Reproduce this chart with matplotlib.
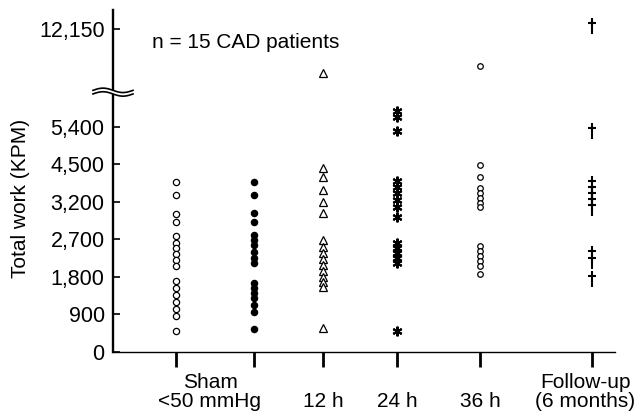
import numpy as np
import matplotlib
matplotlib.use('Agg')
import matplotlib.pyplot as plt
from matplotlib.path import Path
from matplotlib.patches import Polygon
from matplotlib.lines import Line2D
from matplotlib.transforms import ScaledTranslation

plt.rcParams['font.family'] = ['Liberation Sans', 'DejaVu Sans']

# datos (KPM)
sham = [3900, 3450, 3040, 2930, 2750, 2620, 2500, 2350, 2210, 2060, 1700, 1540, 1370, 1200, 1030, 860, 500]
low_map = [3900, 3450, 3050, 2930, 2760, 2690, 2570, 2400, 2260, 2140, 1660, 1540, 1420, 1300, 1130, 960, 550]
h12 = [9100, 4380, 4070, 3620, 3200, 3050, 2690, 2520, 2380, 2230, 2090, 1940, 1800, 1680, 1560, 580]
h24 = [6500, 6090, 5300, 3930, 3720, 3510, 3270, 3130, 3000, 2620, 2500, 2380, 2260, 2140, 500]
h36 = [9600, 4480, 4070, 3690, 3510, 3340, 3190, 3130, 2540, 2420, 2300, 2180, 2060, 1870]
followup = [12360, 5300, 3820, 3620, 3410, 3200, 3120, 2350, 2180, 1750]

series = [sham, low_map, h12, h24, h36, followup]
xlabels = ['', '', '\n12 h', '\n24 h', '\n36 h', 'Follow-up\n(6 months)']
ytick_vals = [0, 900, 1800, 2700, 3200, 4500, 5400, 12150]
ytick_labels = ['0', '900', '1,800', '2,700', '3,200', '4,500', '5,400', '12,150']

# posiciones de las columnas (layout)
xpos = [0, 0.78, 1.47, 2.21, 3.04, 4.16]

# escala con corte: ticks equiespaciados hasta 5400, luego comprimido
scale_vals = np.array(ytick_vals + [15000], dtype=float)
scale_pos = np.array([0, 1, 2, 3, 4, 5, 6, 8.613, 8.613 + 2850 / 2586])


def fwd(v):
    return np.interp(v, scale_vals, scale_pos)


def inv(p):
    return np.interp(p, scale_pos, scale_vals)


dagger = Path([(0, -1), (0, 1), (-0.5, 0.45), (0.5, 0.45)],
              [Path.MOVETO, Path.LINETO, Path.MOVETO, Path.LINETO])

styles = [
    dict(marker='o', ms=4.5, mfc='white', mec='black', mew=0.9),
    dict(marker='o', ms=4.5, mfc='black', mec='black', mew=0.9),
    dict(marker='^', ms=6, mfc='white', mec='black', mew=0.9),
    dict(marker=(6, 2, 0), ms=7, mec='black', mew=1.5),
    dict(marker='o', ms=4, mfc='white', mec='black', mew=0.9),
    dict(marker=dagger, ms=11, mec='black', mew=1.5, mfc='none'),
]

fig = plt.figure(figsize=(6.34, 4.17), dpi=100)
ax = fig.add_axes([113 / 634, 65 / 417, 502 / 634, 342 / 417])
ax.set_yscale('function', functions=(fwd, inv))

for x, vals, st in zip(xpos, series, styles):
    ax.plot(np.full(len(vals), x), vals, linestyle='none', clip_on=False, **st)

ax.set_xlim(-0.63, 4.39)
ax.set_ylim(0, 13460)

ax.spines['top'].set_visible(False)
ax.spines['right'].set_visible(False)
ax.spines['left'].set_linewidth(1.7)
ax.spines['bottom'].set_linewidth(1.0)

ax.set_yticks(ytick_vals, ytick_labels)
ax.yaxis.set_minor_locator(plt.NullLocator())
ax.tick_params(axis='y', direction='in', length=5, width=1.2, pad=6, labelsize=15.5)

ax.set_xticks(xpos, xlabels)
ax.set_xticks([0.34], ['Sham\n<50 mmHg'], minor=True)
ax.tick_params(axis='x', which='major', direction='out', length=11, width=2.0, pad=4, labelsize=15)
ax.tick_params(axis='x', which='minor', length=0, pad=15, labelsize=15)
for lab in ax.get_xticklabels() + ax.get_xticklabels(minor=True):
    lab.set_linespacing(1.0)
last = ax.get_xticklabels()[-1]
last.set_transform(last.get_transform() + ScaledTranslation(-7 / 100, 0, fig.dpi_scale_trans))

ax.set_ylabel('Total work (KPM)', fontsize=15)
ax.yaxis.set_label_coords(-0.165, 0.45)

fig.text(152 / 634, 1 - 48 / 417, 'n = 15 CAD patients', fontsize=15, va='baseline')

# marca de corte del eje
x0 = ax.transAxes.transform((0, 0))[0]
yb = ax.transData.transform((0, 7800))[1]
t = np.linspace(-1, 1, 60)
xs = x0 + 20 * t
wave = -2.2 * np.sin(np.pi * t)
top = yb + 1.8 + wave
bot = yb - 1.8 + wave
gap = Polygon(np.column_stack([np.r_[xs, xs[::-1]], np.r_[top, bot[::-1]]]),
              closed=True, facecolor='white', edgecolor='none', transform=None, zorder=5)
fig.add_artist(gap)
fig.add_artist(Line2D(xs, top, color='black', lw=1.2, transform=None, zorder=6))
fig.add_artist(Line2D(xs, bot, color='black', lw=1.2, transform=None, zorder=6))

fig.savefig('out.png', dpi=100)
